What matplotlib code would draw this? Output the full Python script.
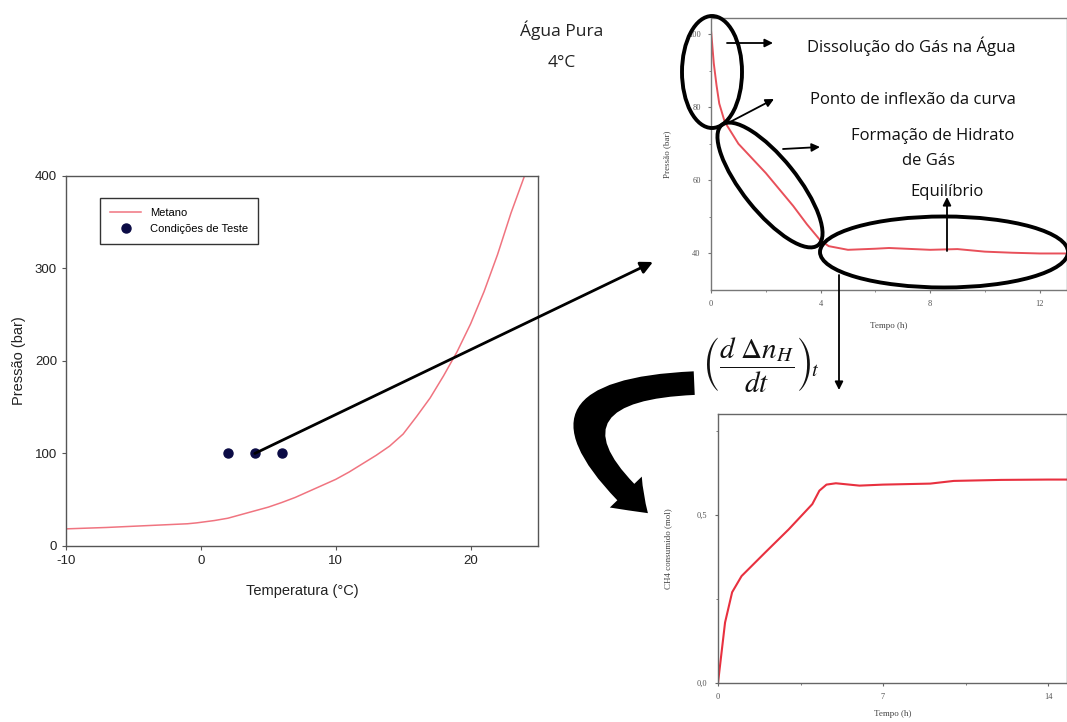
import numpy as np
import matplotlib
matplotlib.use("Agg")
import matplotlib.pyplot as plt
from matplotlib.patches import Ellipse, FancyArrowPatch

plt.rcParams["axes.unicode_minus"] = False
plt.rcParams["mathtext.fontset"] = "stix"

# ---------------- data ----------------
# Hydrate equilibrium curve (methane)
eq_temp = [-10, -7, -4, -1, -0.3, 1, 2, 3, 4, 5, 6, 7, 8, 9, 10, 11, 12, 13, 14,
           15, 16, 17, 18, 19, 20, 21, 22, 23, 24]
eq_press = [18.5, 20, 22, 24, 25, 27.5, 30, 34, 38, 42, 47, 52.5, 59, 65.5, 72, 80, 89, 98, 108,
            121, 140, 160, 184, 210, 240, 275, 315, 360, 400]
# Test conditions
test_temp = [2, 4, 6]
test_press = [100, 100, 100]

# Pressure vs time (pure water, 4 C)
p_time = [0, 0.1, 0.2, 0.3, 0.5, 1.0, 2, 3, 3.5, 4, 4.3, 5, 6, 6.5, 8, 9, 10, 11, 12, 13]
p_value = [101, 92, 86, 81, 76, 70, 62, 53, 48, 43.5, 42, 41, 41.3, 41.5, 41, 41.2, 40.5, 40.2, 40, 40]

# CH4 consumed vs time
c_time = [0, 0.3, 0.6, 1, 2, 3, 4, 4.3, 4.6, 5, 6, 7, 9, 10, 12, 14, 14.8]
c_value = [0, 0.18, 0.27, 0.318, 0.388, 0.457, 0.532, 0.572, 0.59, 0.594, 0.587, 0.59, 0.593, 0.601, 0.604, 0.605, 0.605]

fig = plt.figure(figsize=(10.67, 7.22), dpi=100)

# ---------------- left chart ----------------
ax1 = fig.add_axes([0.0619, 0.2438, 0.4423, 0.5125])
ax1.plot(eq_temp, eq_press, color="#f07480", lw=1.1, label="Metano")
ax1.plot(test_temp, test_press, "o", color="#0b0b45", ms=6.5, ls="none", label="Condições de Teste")
ax1.set_xlim(-10, 25)
ax1.set_ylim(0, 400)
ax1.set_xticks([-10, 0, 10, 20])
ax1.set_yticks([0, 100, 200, 300, 400])
for s in ax1.spines.values():
    s.set_color("#555555")
    s.set_linewidth(1.0)
ax1.tick_params(labelsize=9.5, colors="#222222", length=3, color="#555555",
                labelfontfamily="Liberation Sans")
ax1.set_xlabel("Temperatura (°C)", fontsize=10.5, family="Liberation Sans", color="#222222", labelpad=12)
ax1.set_ylabel("Pressão (bar)", fontsize=10.5, family="Liberation Sans", color="#222222", labelpad=6)
leg = ax1.legend(loc="upper left", bbox_to_anchor=(0.072, 0.94), borderaxespad=0,
                 fancybox=False, edgecolor="#333333", framealpha=1,
                 prop={"family": "Liberation Sans", "size": 8},
                 handlelength=2.8, borderpad=0.9, labelspacing=0.5, handletextpad=0.8)
leg.get_frame().set_linewidth(1.0)

# ---------------- top-right chart ----------------
ax2 = fig.add_axes([0.6664, 0.5983, 0.3336, 0.3767])
ax2.plot(p_time, p_value, color="#e8505a", lw=1.4)
ax2.set_xlim(0, 13)
ax2.set_ylim(30, 104.4)
ax2.set_xticks([0, 4, 8, 12])
ax2.set_xticks([2, 6, 10], minor=True)
ax2.set_yticks([40, 60, 80, 100])
ax2.set_yticks([50, 70, 90], minor=True)
for s in ax2.spines.values():
    s.set_color("#777777")
    s.set_linewidth(1.0)
ax2.tick_params(labelsize=6, colors="#555555", length=2.5, color="#777777", pad=5,
                labelfontfamily="Liberation Serif")
ax2.tick_params(which="minor", length=1.5, color="#777777")
ax2.set_xlabel("Tempo (h)", fontsize=6.5, family="Liberation Serif", color="#444444", labelpad=10)
ax2.set_ylabel("Pressão (bar)", fontsize=6.5, family="Liberation Serif", color="#444444", labelpad=12)

# ---------------- bottom-right chart ----------------
ax3 = fig.add_axes([0.6729, 0.054, 0.3271, 0.3726])
ax3.plot(c_time, c_value, color="#e8303f", lw=1.5)
ax3.set_xlim(0, 14.8)
ax3.set_ylim(0, 0.8)
ax3.set_xticks([0, 7, 14])
ax3.set_xticks([3.5, 10.5], minor=True)
ax3.set_yticks([0.0, 0.5])
ax3.set_yticks([0.25, 0.75], minor=True)
ax3.set_yticklabels(["0,0", "0,5"])
for s in ax3.spines.values():
    s.set_color("#666666")
    s.set_linewidth(1.0)
ax3.tick_params(labelsize=6, colors="#555555", length=2.5, color="#666666", pad=5,
                labelfontfamily="Liberation Serif")
ax3.tick_params(which="minor", length=1.5, color="#666666")
ax3.set_xlabel("Tempo (h)", fontsize=6.5, family="Liberation Serif", color="#444444", labelpad=6)
ax3.set_ylabel("CH4 consumido (mol)", fontsize=6.5, family="Liberation Serif", color="#444444", labelpad=18)

# ---------------- overlay annotations (pixel space) ----------------
ov = fig.add_axes([0, 0, 1, 1], zorder=10)
ov.set_xlim(0, 1067)
ov.set_ylim(722, 0)
ov.axis("off")
ov.patch.set_alpha(0)

txt_font = "Open Sans"
ov.text(562, 36, "Água Pura", ha="center", va="baseline", fontsize=12.5, family=txt_font, color="#222222")
ov.text(562, 67, "4°C", ha="center", va="baseline", fontsize=12.5, family=txt_font, color="#222222")
ov.text(911, 52, "Dissolução do Gás na Água", ha="center", va="baseline", fontsize=12, family=txt_font, color="#111111")
ov.text(913, 104, "Ponto de inflexão da curva", ha="center", va="baseline", fontsize=12, family=txt_font, color="#111111")
ov.text(933, 140, "Formação de Hidrato", ha="center", va="baseline", fontsize=12, family=txt_font, color="#111111")
ov.text(928, 165, "de Gás", ha="center", va="baseline", fontsize=12, family=txt_font, color="#111111")
ov.text(947, 196, "Equilíbrio", ha="center", va="baseline", fontsize=12, family=txt_font, color="#111111")

# ellipses
for (cx, cy, w, h, ang) in [(712, 72, 60, 112, 0), (770, 185, 154, 54, 51.3), (944, 252, 248, 71, 0)]:
    ov.add_patch(Ellipse((cx, cy), w, h, angle=ang, fill=False, ec="black", lw=2.8))

# small arrows
arrow_kw = dict(arrowstyle="-|>", color="black", lw=1.3, mutation_scale=12, shrinkA=0, shrinkB=0)
for (x0, y0, x1, y1) in [(727, 43, 773, 43), (730, 122, 774, 99), (783, 149, 820, 147),
                         (947, 251, 947, 197), (839, 275, 839, 390)]:
    ov.annotate("", xy=(x1, y1), xytext=(x0, y0), arrowprops=arrow_kw)

# long arrow from test point at 4 C to pressure chart
ov.annotate("", xy=(653, 262), xycoords="data", xytext=(4, 100), textcoords=ax1.transData,
            arrowprops=dict(arrowstyle="-|>", color="black", lw=2.0, mutation_scale=18,
                            shrinkA=0, shrinkB=0))

# math expression
ov.text(761, 365, r"$\left(\dfrac{d\ \Delta n_H}{dt}\right)_{\!t}$", ha="center", va="center",
        fontsize=21, color="#111111")

# big curved arrow
big = FancyArrowPatch((697, 383), (650, 515), connectionstyle="arc3,rad=1.25",
                      arrowstyle="simple,head_width=32,head_length=22,tail_width=17",
                      mutation_scale=1, color="black", lw=0)
ov.add_patch(big)

fig.savefig("out.png", dpi=100)
